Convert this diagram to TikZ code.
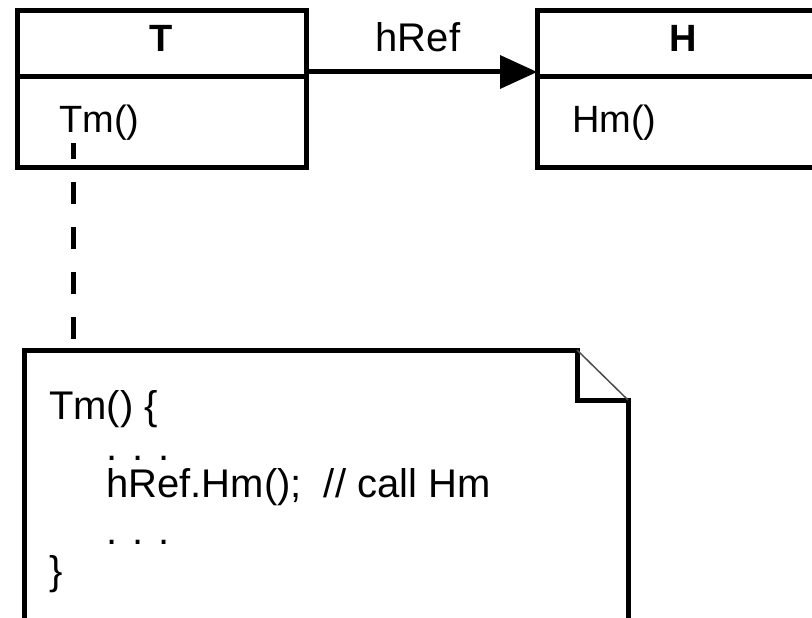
\documentclass[tikz,border=0pt]{standalone}
\usepackage{fontspec}
\setmainfont{Liberation Sans}
\usetikzlibrary{arrows.meta}
\begin{document}
\begin{tikzpicture}[x=1pt,y=-1pt,
  umlbox/.style={draw, line width=5pt, inner sep=0pt, outer sep=0pt},
  thick5/.style={line width=5pt},
  lbl/.style={font=\fontsize{38}{46}\selectfont, inner sep=0pt, anchor=base},
  notetxt/.style={font=\fontsize{40}{48}\selectfont, inner sep=0pt, anchor=base west},
  dashline/.style={line width=5pt, dash pattern=on 22pt off 23pt, dash phase=6pt},
  foldline/.style={line width=1.5pt, black!70}
]
\useasboundingbox (0,0) rectangle (812,618);
% class boxes
\node[umlbox, minimum width=289pt, minimum height=156pt] (T) at (161.5,89) {};
\node[umlbox, minimum width=292pt, minimum height=156pt] (H) at (683,89) {};
\draw[thick5] (T.west |- 0,77) -- (T.east |- 0,77);
\draw[thick5] (H.west |- 0,77) -- (H.east |- 0,77);
% texts in boxes
\node[lbl, font=\fontsize{38}{46}\selectfont\bfseries] (tname) at (161.5,52) {T};
\node[lbl, font=\fontsize{38}{46}\selectfont\bfseries] (hname) at (683,52) {H};
\node[lbl, anchor=base west] (tm) at (59,132) {Tm()};
\node[lbl, anchor=base west] (hm) at (572,132) {Hm()};
% association
\draw[thick5, -{Triangle[length=37pt,width=34pt,line width=0pt]}] (T.east |- 0,72) -- (H.west |- 0,72);
\node[lbl, font=\fontsize{40}{48}\selectfont] (href) at (418,52) {hRef};
% note
\draw[thick5] (24,625) |- (577,350) -- (577,400) -- (628,400) -- (628,625);
\draw[foldline] (577,350) -- (628,400);
\coordinate (notetop) at (73,350);
\coordinate (tmdash) at (73,143);
\draw[dashline] (tmdash) -- (notetop);
% note text
\node[notetxt] (n1) at (49,419) {Tm() \{};
\node[notetxt] (n2) at (106,460) {. . .};
\node[notetxt] (n3) at (106,497) {hRef.Hm();\ \ // call Hm};
\node[notetxt] (n4) at (106,544) {. . .};
\node[notetxt] (n5) at (49,584) {\}};
\end{tikzpicture}
\end{document}
